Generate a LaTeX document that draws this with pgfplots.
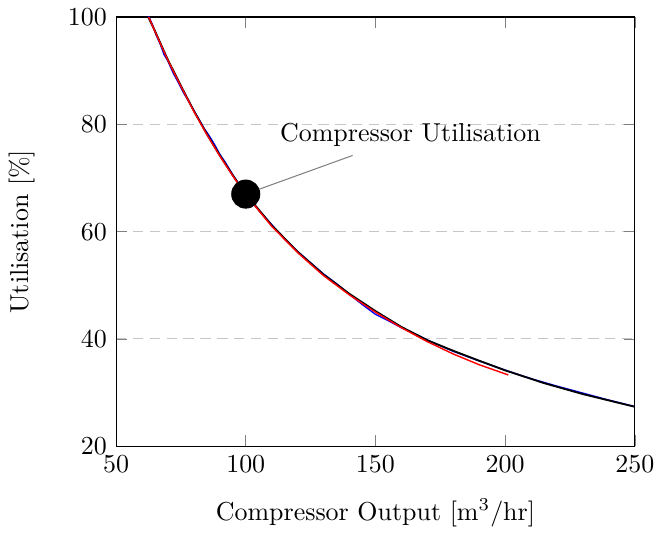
\documentclass[border=0pt]{standalone}
\usepackage{pgfplots}
\pgfplotsset{compat=1.18}
\begin{document}
\begin{tikzpicture}
\begin{axis}[
  scale only axis,
  width=200pt, height=165.5pt,
  xmin=50, xmax=250, ymin=20, ymax=100,
  xtick={50,100,150,200,250},
  ytick={20,40,60,80,100},
  ymajorgrids,
  major grid style={dash pattern=on 4pt off 2.5pt, gray!45},
  xlabel={Compressor Output [m$^3$/hr]},
  ylabel={Utilisation [\%]},
  xlabel shift=3.5pt,
  ylabel shift=6pt,
  clip mode=individual,
]
\addplot[blue, line width=0.55pt] coordinates {
(62.5,100.2)(64,98.6)(65.5,96.6)(67,95.0)(68.5,93.0)(70,91.8)(72,89.6)(74,87.8)(76,85.9)(78,84.3)(80,82.6)(82,80.9)(84,79.2)(86,77.8)(88,76.2)(90,74.4)(92,73.0)(95,70.6)(98,68.4)(100,67.1)(105,64.0)(110,61.3)(115,58.6)(120,56.3)(125,54.2)(130,52.1)(135,50.3)(140,48.3)(145,46.4)(150,44.6)(155,43.4)(160,42.1)(165,41.0)(170,39.8)(180,37.7)(190,35.9)(200,34.2)(210,32.6)(220,31.2)(230,29.9)(240,28.6)(250,27.4)
};
\addplot[black, line width=0.7pt] coordinates {
(62.4,100.0)(65,97.4)(70,92.0)(75,87.2)(80,82.5)(85,78.2)(90,74.2)(95,70.5)(100,67.0)(110,61.2)(120,56.25)(130,52.0)(140,48.4)(150,45.2)(160,42.25)(170,39.76)(180,37.8)(190,35.95)(200,34.15)(215,31.77)(230,29.72)(250,27.36)
};
\addplot[red, line width=0.55pt] coordinates {
(62.6,100)(65,97.3)(70,91.9)(75,87.1)(80,82.4)(85,78.1)(90,74.1)(95,70.4)(100,66.9)(110,61.0)(120,56.1)(130,51.8)(140,48.2)(150,45.0)(160,42.1)(170,39.5)(180,37.2)(190,35.2)(201.2,33.3)
};
\addplot[black, only marks, mark=*, mark size=5.4pt] coordinates {(100,67)};
\draw[gray, line width=0.4pt, shorten <=5.4pt] (axis cs:100,67) -- (axis cs:141.2,74.2);
\node[anchor=base] at (axis cs:163.5,76.86) {Compressor Utilisation};
\end{axis}
\pgfresetboundingbox
\path[use as bounding box] (current axis.outer south west) rectangle ([xshift=-2.3pt]current axis.outer north east);
\end{tikzpicture}
\end{document}
